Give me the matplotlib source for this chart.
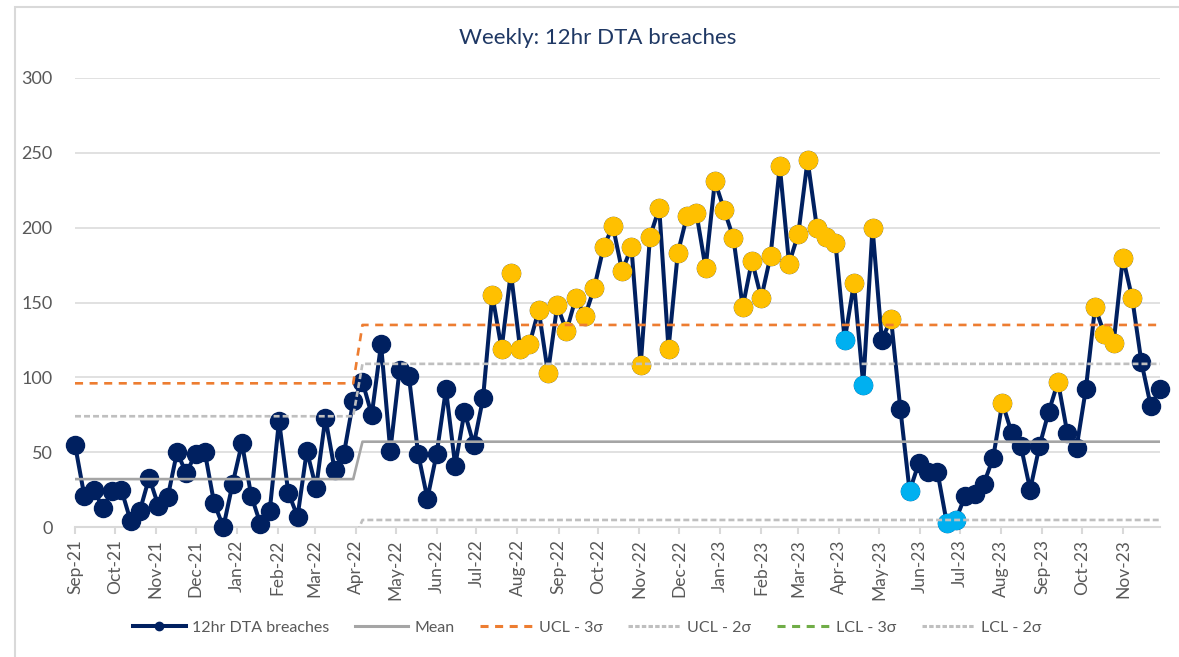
import numpy as np
import pandas as pd
import matplotlib
matplotlib.use("Agg")
import matplotlib.pyplot as plt
import matplotlib.dates as mdates
from matplotlib.lines import Line2D
from matplotlib.patches import Rectangle

plt.rcParams['font.family'] = ['Lato', 'DejaVu Sans']
plt.rcParams['lines.scale_dashes'] = False

# weekly counts (first week 5 Sep 2021)
breaches = [55, 21, 25, 13, 24, 25, 4, 11, 33, 14,
            20, 50, 36, 49, 50, 16, 0, 29, 56, 21,
            2, 11, 71, 23, 7, 51, 26, 73, 38, 49,
            84, 97, 75, 122, 51, 105, 101, 49, 19, 49,
            92, 41, 77, 55, 86, 155, 119, 170, 119, 122,
            145, 103, 148, 131, 153, 141, 160, 187, 201, 171,
            187, 108, 194, 213, 119, 183, 208, 210, 173, 231,
            212, 193, 147, 178, 153, 181, 241, 176, 196, 245,
            200, 194, 190, 125, 163, 95, 200, 125, 139, 79,
            24, 43, 37, 37, 3, 5, 21, 22, 29, 46,
            83, 63, 54, 25, 54, 77, 97, 63, 53, 92,
            147, 129, 123, 180, 153, 110, 81, 92]

# point highlight: n = normal, y = concern (yellow), b = improvement (blue)
flags = list("nnnnnnnnnn"
             "nnnnnnnnnn"
             "nnnnnnnnnn"
             "nnnnnnnnnn"
             "nnnnnyyyyy"
             "yyyyyyyyyy"
             "yyyyyyyyyy"
             "yyyyyyyyyy"
             "yyybybynyn"
             "bnnnbbnnnn"
             "ynnnnnynnn"
             "yyyyynnn")

# control limits for the two phases
phase_len = [31, 87]
mean_vals = [32, 57]
ucl3_vals = [96, 135]
ucl2_vals = [74, 109]
lcl3_vals = [-32, -21]
lcl2_vals = [-10, 4.7]

dates = pd.date_range("2021-09-05", periods=len(breaches), freq="7D")
y = np.array(breaches, dtype=float)
mean = np.repeat(mean_vals, phase_len)
ucl3 = np.repeat(ucl3_vals, phase_len)
ucl2 = np.repeat(ucl2_vals, phase_len)
lcl3 = np.repeat(lcl3_vals, phase_len)
lcl2 = np.repeat(lcl2_vals, phase_len)

navy = "#002060"
yellow = "#FFC000"
blue = "#00B0F0"
txt = "#595959"

fig = plt.figure(figsize=(11.79, 6.57), dpi=100)
fig.patches.append(Rectangle((15 / 1179, -0.1), 1.2, 1 - 7 / 657 + 0.1,
                             transform=fig.transFigure, fill=False,
                             edgecolor="#D9D9D9", linewidth=1.5))
ax = fig.add_axes([75 / 1179, 1 - 527 / 657, (1160 - 75) / 1179, (527 - 78) / 657])

ax.plot(dates, y, color=navy, lw=2.9, marker="o", ms=13, mfc=navy, mec=navy,
        zorder=3, clip_on=False)
fl = np.array(flags)
for code, col in (("y", yellow), ("b", blue)):
    m = fl == code
    ax.plot(dates[m], y[m], ls="none", marker="o", ms=13, mfc=col, mec=col,
            zorder=4, clip_on=False)

ax.plot(dates, mean, color="#A5A5A5", lw=1.9, zorder=5)
ax.plot(dates, ucl3, color="#ED7D31", lw=1.9, dashes=(5.8, 4.7), zorder=5)
ax.plot(dates, ucl2, color="#BFBFBF", lw=1.9, dashes=(4.3, 2.2), zorder=5)
ax.plot(dates, lcl3, color="#70AD47", lw=1.9, dashes=(5.8, 4.7), zorder=5)
ax.plot(dates, lcl2, color="#BFBFBF", lw=1.9, dashes=(4.3, 2.2), zorder=5)

ax.set_ylim(0, 300)
ax.set_xlim(dates[0], dates[-1])
ax.set_yticks(range(0, 301, 50))
ax.grid(axis="y", color="#D9D9D9", lw=1.1)
ax.set_axisbelow(True)
for s in ("top", "right", "left"):
    ax.spines[s].set_visible(False)
ax.spines["bottom"].set_color("#D9D9D9")
ax.spines["bottom"].set_linewidth(1.5)

ax.xaxis.set_major_locator(mdates.MonthLocator(bymonthday=5))
ax.xaxis.set_major_formatter(mdates.DateFormatter("%b-%y"))
ax.tick_params(axis="x", colors="#D9D9D9", length=5, width=1.5, labelcolor=txt,
               labelsize=12.5, labelrotation=90, pad=4)
ax.tick_params(axis="y", length=0, labelcolor=txt, labelsize=13, pad=16)

fig.text(0.507, 0.942, "Weekly: 12hr DTA breaches", color="#1F3864",
         fontsize=16, ha="center", va="center")

handles = [
    Line2D([], [], color=navy, lw=2.9, marker="o", ms=6),
    Line2D([], [], color="#A5A5A5", lw=2.2),
    Line2D([], [], color="#ED7D31", lw=2.2, dashes=(5.8, 4.7)),
    Line2D([], [], color="#BFBFBF", lw=2.2, dashes=(3.2, 1.6)),
    Line2D([], [], color="#70AD47", lw=2.2, dashes=(5.8, 4.7)),
    Line2D([], [], color="#BFBFBF", lw=2.2, dashes=(3.2, 1.6)),
]
labels = ["12hr DTA breaches", "Mean", "UCL - 3σ", "UCL - 2σ", "LCL - 3σ", "LCL - 2σ"]
leg = fig.legend(handles, labels, loc="center", bbox_to_anchor=(0.498, 0.045),
                 ncol=6, frameon=False, fontsize=11.5, handlelength=3.3,
                 handletextpad=0.4, columnspacing=1.6, labelcolor=txt)

fig.savefig("out.png", dpi=100)
